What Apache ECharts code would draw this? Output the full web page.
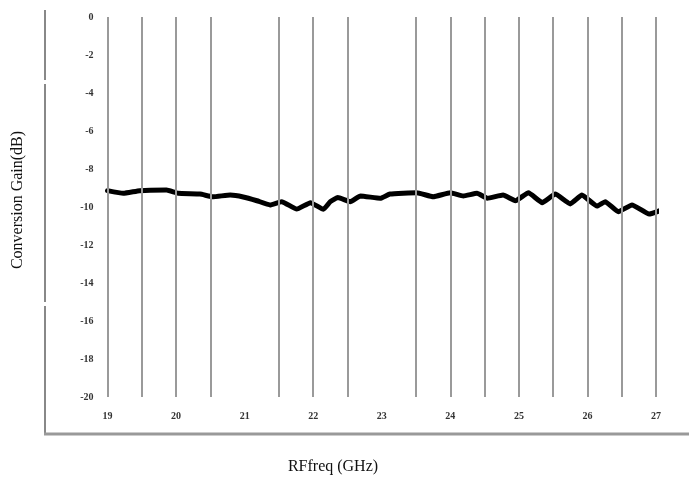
<!DOCTYPE html>
<html>
<head>
<meta charset="utf-8">
<script src="https://cdn.jsdelivr.net/npm/echarts@6/dist/echarts.min.js"></script>
<style>
  html, body { margin: 0; padding: 0; background: #fff; }
  #main { width: 689px; height: 482px; }
</style>
</head>
<body>
<div id="main"></div>
<script>
// frequency (GHz) and conversion gain (dB)
const freq = [19.00, 19.23, 19.47, 19.86, 20.03, 20.35, 20.54, 20.79, 20.98, 21.18,
  21.37, 21.54, 21.76, 21.96, 22.15, 22.25, 22.36, 22.54, 22.69, 22.98,
  23.12, 23.51, 23.75, 24.00, 24.19, 24.39, 24.54, 24.77, 24.95, 25.14,
  25.34, 25.53, 25.75, 25.92, 26.14, 26.26, 26.45, 26.65, 26.90, 27.06];
const gain = [-9.14, -9.28, -9.14, -9.11, -9.28, -9.32, -9.46, -9.37, -9.47, -9.67,
  -9.89, -9.72, -10.11, -9.77, -10.12, -9.72, -9.50, -9.72, -9.42, -9.54,
  -9.32, -9.25, -9.46, -9.25, -9.42, -9.28, -9.54, -9.37, -9.67, -9.25,
  -9.77, -9.32, -9.84, -9.37, -9.95, -9.72, -10.25, -9.89, -10.37, -10.19];
// vertical grid lines (21 and 23 are missing in the original)
const gridX = [19, 19.5, 20, 20.5, 21.5, 22, 22.5, 23.5, 24, 24.5, 25, 25.5, 26, 26.5, 27];

const chart = echarts.init(document.getElementById('main'));

const labelFont = {
  fontFamily: 'Liberation Serif',
  fontSize: 10,
  fontWeight: 'bold',
  color: '#333'
};

chart.setOption({
  animation: false,
  grid: { left: 107.5, right: 33, top: 17, bottom: 85 },
  xAxis: {
    type: 'value',
    min: 19,
    max: 27,
    interval: 1,
    axisLine: { show: false },
    axisTick: { show: false },
    splitLine: { show: false },
    axisLabel: Object.assign({ margin: 14 }, labelFont)
  },
  yAxis: {
    type: 'value',
    min: -20,
    max: 0,
    interval: 2,
    axisLine: { show: false },
    axisTick: { show: false },
    splitLine: { show: false },
    axisLabel: Object.assign({ margin: 14 }, labelFont)
  },
  graphic: [
    // broken left frame line
    { type: 'line', shape: { x1: 45, y1: 10, x2: 45, y2: 80 }, style: { stroke: '#888', lineWidth: 2 } },
    { type: 'line', shape: { x1: 45, y1: 84, x2: 45, y2: 302 }, style: { stroke: '#888', lineWidth: 2 } },
    { type: 'line', shape: { x1: 45, y1: 306, x2: 45, y2: 435 }, style: { stroke: '#888', lineWidth: 2 } },
    // bottom frame line
    { type: 'line', shape: { x1: 44, y1: 434, x2: 689, y2: 434 }, style: { stroke: '#999', lineWidth: 3 } },
    {
      type: 'text', x: 18, y: 200, rotation: Math.PI / 2,
      style: {
        text: 'Conversion Gain(dB)', fontFamily: 'Liberation Serif', fontSize: 16,
        fill: '#111', align: 'center', verticalAlign: 'middle'
      }
    },
    {
      type: 'text', x: 333, y: 467,
      style: {
        text: 'RFfreq (GHz)', fontFamily: 'Liberation Serif', fontSize: 16,
        fill: '#111', align: 'center', verticalAlign: 'middle'
      }
    }
  ],
  series: [
    {
      type: 'line',
      data: [],
      z: 1,
      silent: true,
      markLine: {
        silent: true,
        symbol: 'none',
        label: { show: false },
        lineStyle: { color: '#9a9a9a', width: 2, type: 'solid' },
        data: gridX.map(v => ({ xAxis: v }))
      }
    },
    {
      type: 'line',
      z: 3,
      data: freq.map((f, i) => [f, gain[i]]),
      showSymbol: false,
      smooth: 0.12,
      lineStyle: { color: '#000', width: 5, cap: 'round', join: 'round' }
    }
  ]
});
</script>
</body>
</html>
